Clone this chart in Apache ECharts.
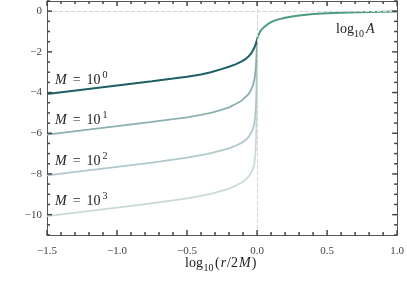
<!DOCTYPE html>
<html><head><meta charset="utf-8">
<script src="https://cdn.jsdelivr.net/npm/echarts@6/dist/echarts.min.js"></script>
<style>html,body{margin:0;padding:0;background:#fff}#c{width:407px;height:283px}</style>
</head><body><div id="c"></div>
<script>
// ---- data ----
const xInner = [-1.5,-1.25,-1.0,-0.75,-0.6,-0.5,-0.4,-0.33,-0.26,-0.2,-0.15,-0.11,-0.08,-0.06,-0.045,-0.03,-0.02,-0.012,-0.007,-0.004,-0.002,-0.001,0.0];
const yM0 = [-4.07,-3.86,-3.65,-3.44,-3.31,-3.22,-3.11,-3.0,-2.86,-2.73,-2.6,-2.47,-2.34,-2.22,-2.1,-1.93,-1.8,-1.66,-1.56,-1.49,-1.43,-1.4,-1.36];
const yM1 = [-6.07,-5.86,-5.65,-5.44,-5.31,-5.22,-5.1,-5.0,-4.86,-4.73,-4.55,-4.4,-4.2,-4.07,-3.9,-3.65,-3.4,-3.0,-2.55,-2.1,-1.75,-1.55,-1.36];
const yM2 = [-8.07,-7.86,-7.65,-7.44,-7.3,-7.2,-7.08,-6.98,-6.85,-6.74,-6.6,-6.47,-6.32,-6.18,-6.0,-5.8,-5.55,-5.1,-4.45,-3.7,-2.7,-2.0,-1.36];
const yM3 = [-10.07,-9.86,-9.65,-9.44,-9.3,-9.2,-9.08,-8.98,-8.84,-8.72,-8.57,-8.42,-8.27,-8.12,-7.97,-7.75,-7.5,-7.0,-6.25,-5.35,-4.2,-3.0,-1.36];
const xOuter = [0.0,0.005,0.01,0.02,0.03,0.045,0.06,0.08,0.1,0.13,0.16,0.2,0.25,0.3,0.4,0.5,0.65,0.8,1.0];
const yOuter = [-1.36,-1.25,-1.16,-1.02,-0.92,-0.82,-0.73,-0.62,-0.54,-0.45,-0.39,-0.32,-0.26,-0.21,-0.14,-0.1,-0.065,-0.04,-0.02];
const massExponents = ['0','1','2','3'];
const yTickValues = [-10,-8,-6,-4,-2,0];
const xTickValues = [-1.5,-1.0,-0.5,0.0,0.5,1.0];

const X_MIN = -1.5, X_MAX = 1.0, Y_MIN = -11, Y_MAX = 0.5;
const GRID = {left:47, right:8, top:1, bottom:48};
const pair = (xs, ys) => xs.map((x, i) => [x, ys[i]]);
const fmtX = v => (v < 0 ? '\u2212' : '') + Math.abs(v).toFixed(1);
const fmtY = v => (v < 0 ? '\u2212' : '') + Math.abs(v);

// tick list (major + minor)
const tickList = [];
for (let i = 0; i <= 25; i++) { const v = +(X_MIN + i * 0.1).toFixed(2); tickList.push({axis:'x', v, len: (i % 5 === 0) ? 5 : 3}); }
for (let i = 0; i <= 23; i++) { const v = +(Y_MIN + i * 0.5).toFixed(2); tickList.push({axis:'y', v, len: yTickValues.includes(v) ? 5 : 3}); }

const axisCol = '#555';
const serif = '"Liberation Serif", "DejaVu Serif", serif';
const chart = echarts.init(document.getElementById('c'));

function xAx(showLabel){
  return {type:'value', min:X_MIN, max:X_MAX, interval:0.5, position: showLabel ? 'bottom' : 'top',
    axisLine:{show:true,onZero:false,lineStyle:{color:axisCol,width:1}},
    axisTick:{show:false}, minorTick:{show:false}, splitLine:{show:false},
    axisLabel:{show:showLabel, formatter:fmtX, color:'#444', fontFamily:serif, fontSize:11, margin:11}};
}
function yAx(showLabel){
  return {type:'value', min:Y_MIN, max:Y_MAX, position: showLabel ? 'left' : 'right',
    axisLine:{show:true,onZero:false,lineStyle:{color:axisCol,width:1}},
    axisTick:{show:false}, splitLine:{show:false},
    axisLabel:{show:showLabel, customValues:yTickValues, formatter:fmtY, color:'#444', fontFamily:serif, fontSize:11, margin:5}};
}

const series = [];
// ticks first (as in the working test), placed via the axis scales
series.push({type:'custom', silent:true, z:10, clip:false,
  data: tickList.map(t => [t.axis === 'x' ? t.v : X_MIN, t.axis === 'y' ? t.v : Y_MIN]),
  renderItem: (params, api) => {
    const t = tickList[params.dataIndex];
    const cs = params.coordSys;
    const st = {stroke: '#444', lineWidth: 1.5};
    if (t.axis === 'x') {
      const px = api.coord([t.v, 0])[0];
      const yb = cs.y + cs.height, yt = cs.y;
      return {type:'group', children:[
        {type:'line', shape:{x1:px, y1:yb, x2:px, y2:yb - t.len}, style:st},
        {type:'line', shape:{x1:px, y1:yt, x2:px, y2:yt + t.len}, style:st}]};
    }
    const py = api.coord([0, t.v])[1];
    const xl = cs.x, xr = cs.x + cs.width;
    return {type:'group', children:[
      {type:'line', shape:{x1:xl, y1:py, x2:xl + t.len, y2:py}, style:st},
      {type:'line', shape:{x1:xr, y1:py, x2:xr - t.len, y2:py}, style:st}]};
  }});

const teal = ['#1e5f66','#8cafb3','#b0c8cb','#c9dadb'];
const innerSets = [yM0, yM1, yM2, yM3];
for (let k = 3; k >= 0; k--) {
  const s = {type:'line', data:pair(xInner, innerSets[k]), showSymbol:false, symbol:'none',
    lineStyle:{color:teal[k], width:k===0?2:1.8}, silent:true, z:2};
  if (k === 3) {
    s.markLine = {silent:true, symbol:'none', label:{show:false}, animation:false,
      lineStyle:{type:'dashed', color:'#d4d4d4', width:1},
      data:[{yAxis:0},{xAxis:0}]};
  }
  series.push(s);
}
series.push({type:'line', data:pair(xOuter, yOuter), showSymbol:false, symbol:'none',
  lineStyle:{color:'#4c9b85', width:2}, silent:true, z:3});

const graphics = [];
const labelY = [80, 120.3, 161.2, 201.8];
massExponents.forEach((e, i) => {
  graphics.push({type:'text', x:55, y:labelY[i], silent:true,
    style:{text:'{i|M}{e|=}10', fill:'#222', font:'14px ' + serif, verticalAlign:'middle',
      rich:{i:{fontStyle:'italic', fontSize:14, fontFamily:'Liberation Serif'}, e:{padding:[0,6,0,6], fontSize:14, fontFamily:'Liberation Serif'}}}});
  graphics.push({type:'text', x:102.5, y:labelY[i]-5, silent:true,
    style:{text:e, fill:'#222', font:'10px ' + serif, verticalAlign:'middle'}});
});
graphics.push({type:'text', x:336, y:29.5, silent:true, style:{text:'log', fill:'#222', font:'14px ' + serif, verticalAlign:'middle'}});
graphics.push({type:'text', x:354, y:34.5, silent:true, style:{text:'10', fill:'#222', font:'10px ' + serif, verticalAlign:'middle'}});
graphics.push({type:'text', x:366, y:29.5, silent:true, style:{text:'A', fill:'#222', font:'italic 14px ' + serif, verticalAlign:'middle'}});
graphics.push({type:'text', x:185, y:263.5, silent:true, style:{text:'log', fill:'#222', font:'14px ' + serif, verticalAlign:'middle'}});
graphics.push({type:'text', x:203.5, y:268, silent:true, style:{text:'10', fill:'#222', font:'10px ' + serif, verticalAlign:'middle'}});
graphics.push({type:'text', x:215, y:263.5, silent:true,
  style:{text:'({i|r}/2{i|M})', fill:'#222', font:'14px ' + serif, verticalAlign:'middle',
    rich:{i:{fontStyle:'italic', fontSize:14, fontFamily:'Liberation Serif', padding:[0,1,0,1]}}}});

chart.setOption({
  animation:false,
  grid:GRID,
  xAxis:[xAx(true), xAx(false)],
  yAxis:[yAx(true), yAx(false)],
  series: series,
  graphic: graphics
});
</script></body></html>
